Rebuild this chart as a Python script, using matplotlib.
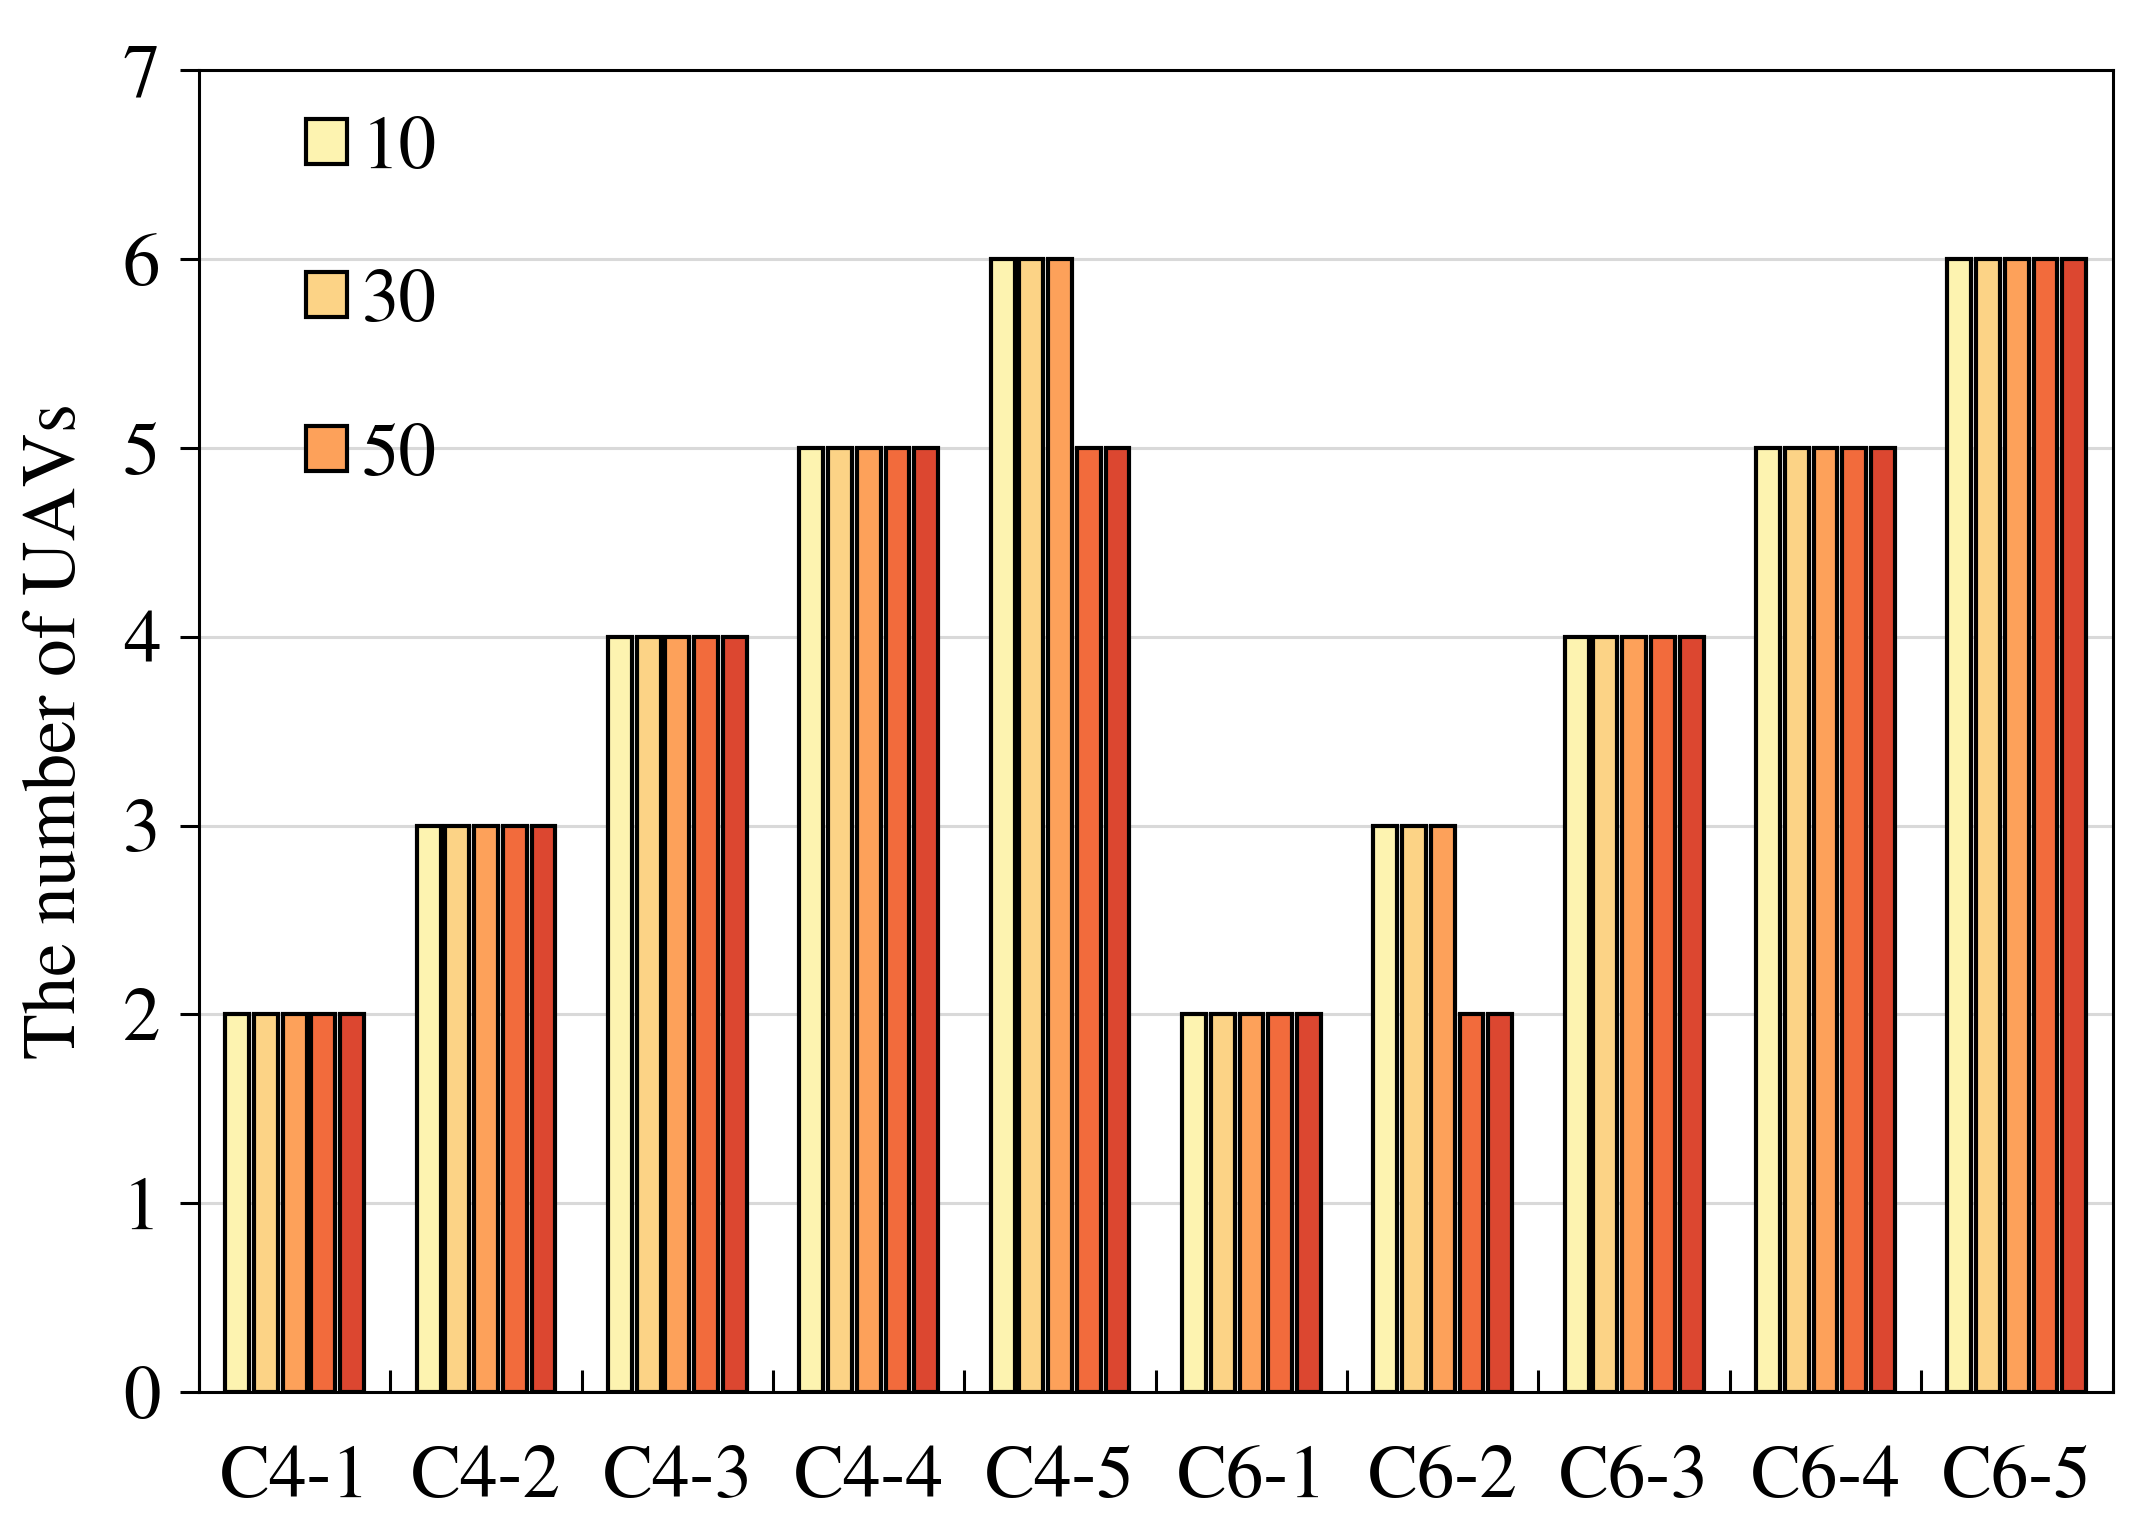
import matplotlib
matplotlib.use("Agg")
import matplotlib.pyplot as plt
import numpy as np
from matplotlib.patches import Patch

categories = ["C4-1", "C4-2", "C4-3", "C4-4", "C4-5",
              "C6-1", "C6-2", "C6-3", "C6-4", "C6-5"]
series_labels = ["10", "30", "50", "", ""]
s1 = [2, 3, 4, 5, 6, 2, 3, 4, 5, 6]
s2 = [2, 3, 4, 5, 6, 2, 3, 4, 5, 6]
s3 = [2, 3, 4, 5, 6, 2, 3, 4, 5, 6]
s4 = [2, 3, 4, 5, 5, 2, 2, 4, 5, 6]
s5 = [2, 3, 4, 5, 5, 2, 2, 4, 5, 6]
series = [s1, s2, s3, s4, s5]
colors = ["#FDF3B0", "#FCD386", "#FDA15A", "#F26B3C", "#DC4730"]
yticks = [0, 1, 2, 3, 4, 5, 6, 7]

plt.rcParams['font.family'] = ['STIXGeneral', 'DejaVu Serif']
FS = 54

fig = plt.figure(figsize=(21.36, 15.26), dpi=100)
ax = fig.add_axes([0.0932, 0.0878, 0.8958, 0.8662])

x = np.arange(len(categories))
step = 0.15
width = 0.125
for i, (vals, c) in enumerate(zip(series, colors)):
    offs = (i - 2) * step
    ax.bar(x + offs, vals, width=width, color=c, edgecolor='black',
           linewidth=3.0, zorder=3)

ax.set_xlim(-0.5, len(categories) - 0.5)
ax.set_ylim(0, 7)
ax.set_yticks(yticks)
ax.set_yticklabels([str(t) for t in yticks], fontsize=FS)
ax.tick_params(axis='y', direction='out', length=14, width=2.2, pad=14)

ax.set_xticks(np.arange(len(categories) + 1) - 0.5)
ax.set_xticklabels([])
ax.set_xticks(x, minor=True)
ax.set_xticklabels(categories, minor=True, fontsize=FS)
ax.tick_params(axis='x', which='major', direction='in', length=16, width=2.2)
ax.tick_params(axis='x', which='minor', length=0, pad=38)

ax.yaxis.grid(True, color='#d9d9d9', linewidth=2.2, zorder=0)
ax.set_axisbelow(True)
for sp in ax.spines.values():
    sp.set_linewidth(2.2)
    sp.set_zorder(4)

ax.set_ylabel("The number of UAVs", fontsize=FS, labelpad=22)

handles = [Patch(facecolor=colors[i], edgecolor='black', linewidth=3.0,
                 label=series_labels[i]) for i in range(3)]
ax.legend(handles=handles, loc='upper left', bbox_to_anchor=(0.04, 0.988),
          frameon=False, fontsize=FS, handlelength=0.55, handleheight=0.55,
          handletextpad=0.2, labelspacing=1.13, borderaxespad=0)

fig.savefig("out.png", dpi=100)
